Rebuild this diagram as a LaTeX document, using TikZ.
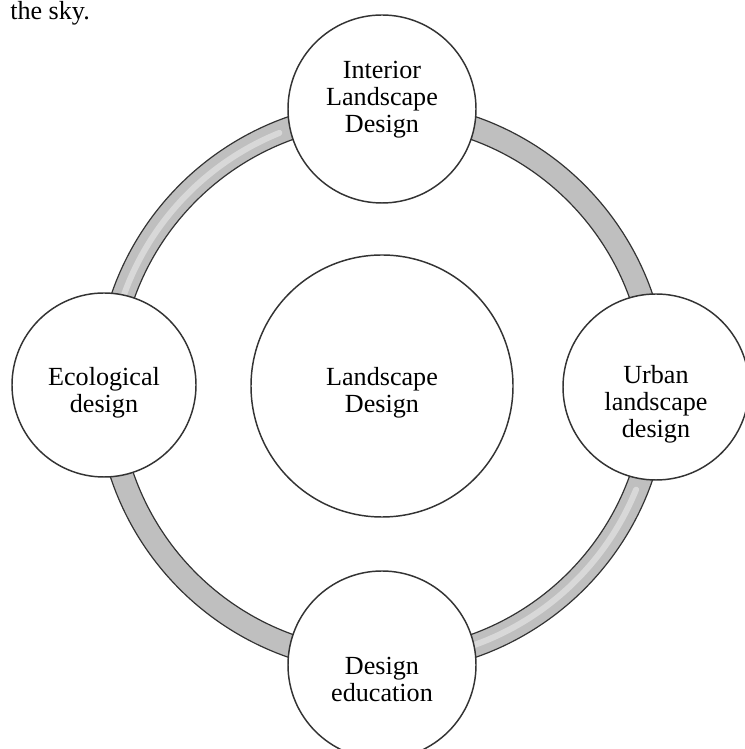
\documentclass[tikz,border=0pt]{standalone}
\usepackage{fontspec}
\setmainfont{Liberation Serif}
\usetikzlibrary{positioning}
\tikzset{bubble/.style = {draw=black!80, line width=1.1pt, fill=white, circle,
                          inner sep=0, minimum size=#1}}
\tikzset{words/.style = {align=center, inner sep=0,
                         font=\fontsize{19.6}{20.3}\selectfont}}
\tikzset{rim/.style = {draw=black!80, line width=0.9pt}}
\tikzset{gleam/.style = {white, opacity=0.4, line width=4.5, line cap=round}}

\begin{document}
\begin{tikzpicture}[x=0.75pt, y=0.75pt]
    \useasboundingbox (0,0) rectangle (745,749);
    \node [words, anchor=base west] (sky) at (10,729) {the sky.};

    % the ring
    \coordinate (hub) at (382,362);
    \fill [gray!50, even odd rule] (hub) circle [radius=286] (hub) circle [radius=263];
    \draw [gleam] ([shift={(112:274)}]hub) arc [start angle=112, end angle=162, radius=274];
    \draw [gleam] ([shift={(-72:274)}]hub) arc [start angle=-72, end angle=-22, radius=274];
    \draw [rim] (hub) circle [radius=286];
    \draw [rim] (hub) circle [radius=263];

    % the five circles
    \node [bubble=196.5pt] (core) at (382,363) {};
    \node [bubble=141pt] (interior) at (382,640) {};
    \node [bubble=138pt] (eco) at (104,364) {};
    \node [bubble=139.5pt] (urban) at (656,362) {};
    \node [bubble=141pt] (edu) at (382,84) {};

    \node [words] (coretext) at ([yshift=-5]core.center) {Landscape\\Design};
    \node [words] (interiortext) at ([yshift=7]interior.center) {Interior\\Landscape\\Design};
    \node [words] (ecotext) at ([yshift=-6]eco.center) {Ecological\\design};
    \node [words] (urbantext) at ([yshift=-13]urban.center) {Urban\\landscape\\design};
    \node [words] (edutext) at ([yshift=-11]edu.center) {Design\\education};
\end{tikzpicture}
\end{document}
